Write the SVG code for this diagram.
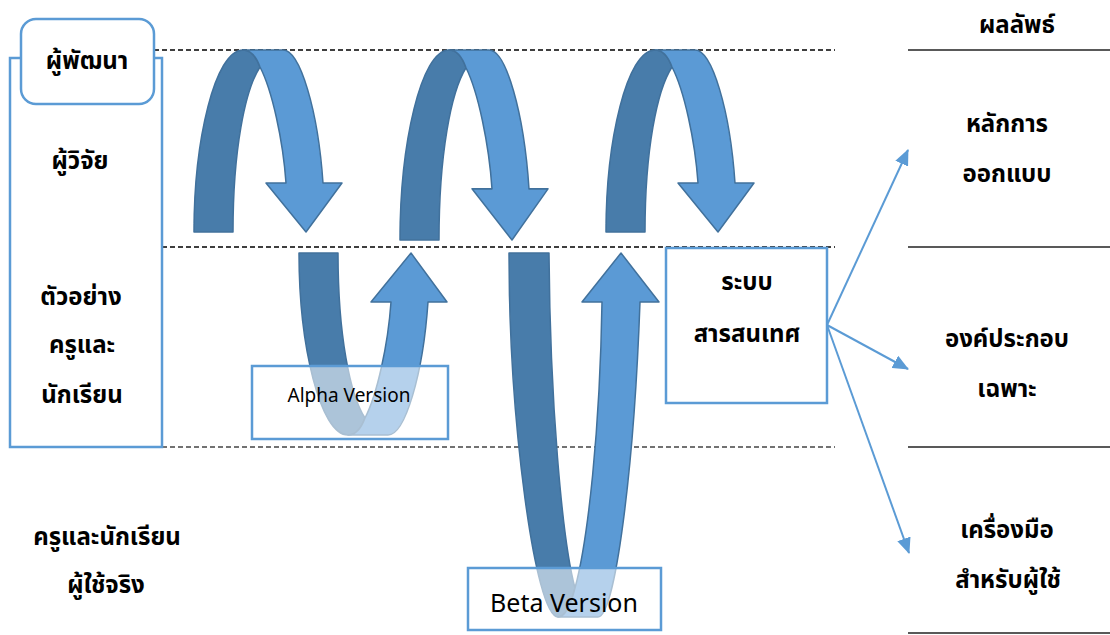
<svg xmlns="http://www.w3.org/2000/svg" xmlns:xlink="http://www.w3.org/1999/xlink" width="1110" height="635" viewBox="0 0 1110 635">
  <style>
    .th { font-family: "Noto Sans Thai", "Noto Sans", "DejaVu Sans", sans-serif; font-size: 24px; font-weight: 700; fill: #000; text-anchor: middle; }
    .en { font-family: "Noto Sans", "DejaVu Sans", sans-serif; fill: #000; text-anchor: middle; }
    .box { fill: #fff; stroke: #5B9BD5; stroke-width: 2.5; }
    .veil { fill: #fff; fill-opacity: 0.55; stroke: #5B9BD5; stroke-width: 2.5; }
    .dash { stroke: #000; stroke-width: 1.3; stroke-dasharray: 5 3; fill: none; }
    .rule { stroke: #222; stroke-width: 1.5; fill: none; }
    .back { fill: #487CAA; stroke: #41719C; stroke-width: 1.5; stroke-linejoin: round; }
    .front { fill: #5B9AD5; stroke: #41719C; stroke-width: 1.5; stroke-linejoin: round; }
    .link { stroke: #5B9BD5; stroke-width: 2; fill: none; }
  </style>
  <defs>
    <!-- ribbon arrow that loops over the top and points down -->
    <g id="curl">
      <path class="back" d="M194,232 C194,140 215,50 243,50 C250,50 256,56 260,67 C245,90 233,150 233,232 Z"/>
      <path class="front" d="M243,50 L283,50 C300,50 318,110 323,183 L342,183 L306,232 L266,183 L286,183 C283,140 272,90 260,67 C256,56 250,50 243,50 Z"/>
    </g>
    <marker id="tip" markerUnits="userSpaceOnUse" markerWidth="16" markerHeight="14" refX="15" refY="7" orient="auto">
      <path d="M0,0 L16,7 L0,14 Z" fill="#5B9BD5"/>
    </marker>
  </defs>

  <rect width="1110" height="635" fill="#fff"/>

  <!-- lane guides -->
  <g id="guides">
    <line class="dash" x1="154" y1="50" x2="835" y2="50"/>
    <line class="dash" x1="162" y1="247" x2="835" y2="247"/>
    <line class="dash" x1="162" y1="447" x2="835" y2="447" style="stroke:#444"/>
    <line class="rule" x1="908" y1="50" x2="1110" y2="50"/>
    <line class="rule" x1="908" y1="247" x2="1110" y2="247"/>
    <line class="rule" x1="908" y1="447" x2="1110" y2="447"/>
    <line class="rule" x1="908" y1="633" x2="1110" y2="633"/>
  </g>

  <!-- participants column -->
  <g id="researcher-panel">
    <rect class="box" x="10" y="58" width="152" height="389"/>
    <text class="th" x="80" y="169">ผู้วิจัย</text>
    <text class="th" x="81" y="305">ตัวอย่าง</text>
    <text class="th" x="82" y="353">ครูและ</text>
    <text class="th" x="82" y="403">นักเรียน</text>
  </g>
  <g id="developer">
    <rect class="box" x="21" y="19" width="133" height="85" rx="15"/>
    <text class="th" x="87" y="69">ผู้พัฒนา</text>
  </g>
  <g id="real-users">
    <text class="th" x="107" y="545">ครูและนักเรียน</text>
    <text class="th" x="106" y="593">ผู้ใช้จริง</text>
  </g>

  <!-- development loops -->
  <g id="loop-1"><use xlink:href="#curl"/></g>
  <g id="loop-2"><use xlink:href="#curl" transform="translate(206,50) scale(1,1.044) translate(0,-50)"/></g>
  <g id="loop-3"><use xlink:href="#curl" transform="translate(412,0)"/></g>

  <g id="alpha-loop"><use xlink:href="#curl" transform="translate(105,485) scale(1,-1)"/></g>
  <g id="beta-loop">
    <path class="back" d="M509,253 L549,253 C550,400 562,540 575,588 C571,604 565,617 558,617 C535,617 509,420 509,253 Z"/>
    <path class="front" d="M558,617 L598,617 C615,617 634,470 640,302 L659,302 L621,253 L582,302 L602,302 C600,430 588,540 575,588 C571,604 565,617 558,617 Z"/>
  </g>

  <g id="alpha-version">
    <rect class="veil" x="252" y="366" width="196" height="73"/>
    <text class="en" x="349" y="402" font-size="19">Alpha Version</text>
  </g>
  <g id="beta-version">
    <rect class="veil" x="468" y="568" width="193" height="62"/>
    <text class="en" x="564" y="612" font-size="25">Beta Version</text>
  </g>

  <g id="info-system">
    <rect class="box" x="666" y="248" width="161" height="155"/>
    <text class="th" x="747" y="290">ระบบ</text>
    <text class="th" x="747" y="342">สารสนเทศ</text>
  </g>

  <!-- outcomes column -->
  <g id="outcomes-header"><text class="th" x="1017" y="33">ผลลัพธ์</text></g>
  <g id="design-principles">
    <text class="th" x="1007" y="132">หลักการ</text>
    <text class="th" x="1007" y="182">ออกแบบ</text>
  </g>
  <g id="specific-components">
    <text class="th" x="1007" y="347">องค์ประกอบ</text>
    <text class="th" x="1007" y="397">เฉพาะ</text>
  </g>
  <g id="user-tools">
    <text class="th" x="1007" y="538">เครื่องมือ</text>
    <text class="th" x="1008" y="588">สำหรับผู้ใช้</text>
  </g>

  <g id="connectors">
    <line class="link" x1="827" y1="325" x2="908" y2="150" marker-end="url(#tip)"/>
    <line class="link" x1="827" y1="325" x2="908" y2="369" marker-end="url(#tip)"/>
    <line class="link" x1="827" y1="325" x2="909" y2="553" marker-end="url(#tip)"/>
  </g>
</svg>
